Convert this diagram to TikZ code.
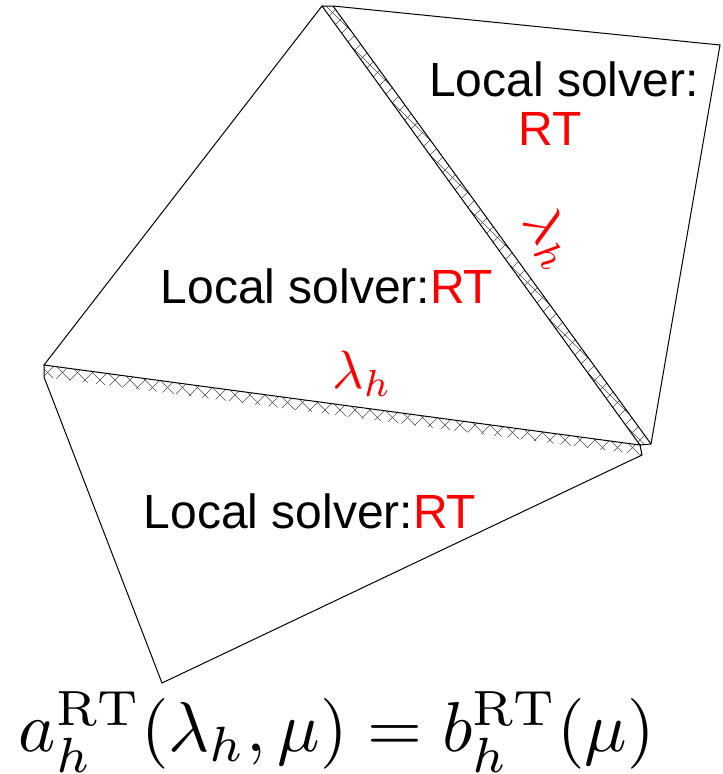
\documentclass[tikz,border=0pt]{standalone}
\usepackage{fontspec}
\newfontfamily\lsans{Liberation Sans}
\begin{document}
\begin{tikzpicture}[x=1pt,y=-1pt,
  edge/.style={black,line width=1pt,line join=miter},
  hatch/.style={gray!60!black,line width=0.6pt},
  lbl/.style={font=\lsans\fontsize{48}{56}\selectfont,anchor=base,inner sep=0pt},
  lam/.style={text=red,inner sep=0pt}]
\useasboundingbox (0,0) rectangle (723,774);
% vertices
\coordinate (A1) at (322,6);
\coordinate (A2) at (333,6);
\coordinate (F) at (720,45);
\coordinate (C1) at (640,445);
\coordinate (C2) at (651,444);
\coordinate (D) at (642,455);
\coordinate (B1) at (44,365);
\coordinate (B2) at (44,377);
\coordinate (E) at (162,683);
% hatched strips
\begin{scope}
  \clip (A1) -- (A2) -- (C2) -- (C1) -- cycle;
  \foreach \c in {-800,-785,...,1500} {
    \draw[hatch] (\c,-10) -- ++(800,800);
    \draw[hatch] (\c,-10) -- ++(-800,800);
  }
\end{scope}
\begin{scope}
  \clip (B1) -- (C1) -- (D) -- (B2) -- cycle;
  \foreach \c in {-800,-785,...,1500} {
    \draw[hatch] (\c,-10) -- ++(800,800);
    \draw[hatch] (\c,-10) -- ++(-800,800);
  }
\end{scope}
% outlines
\draw[edge] (A1) -- (B1) -- (C1) -- cycle;
\draw[edge] (A1) -- (A2) -- (F) -- (C2) -- (C1);
\draw[edge] (A2) -- (C2);
\draw[edge] (B1) -- (B2) -- (E) -- (D) -- (C1);
% labels
\node[lbl] (t1) at (564,96) {Local solver:};
\node[lbl,text=red] (t2) at (550,145) {RT};
\node[lbl] (t3) at (327,303) {Local solver:\textcolor{red}{RT}};
\node[lbl] (t4) at (310,528) {Local solver:\textcolor{red}{RT}};
\node[lam] (l1) at (362,374) {\scalebox{5.4}{$\lambda_h$}};
\node[lam,rotate=-56] (l2) at (550,238) {\scalebox{5.4}{$\lambda_h$}};
\node[inner sep=0pt] (eq) at (337,732) {\resizebox{636pt}{!}{$a_h^{\mathrm{RT}}(\lambda_h,\mu)=b_h^{\mathrm{RT}}(\mu)$}};
\end{tikzpicture}
\end{document}
